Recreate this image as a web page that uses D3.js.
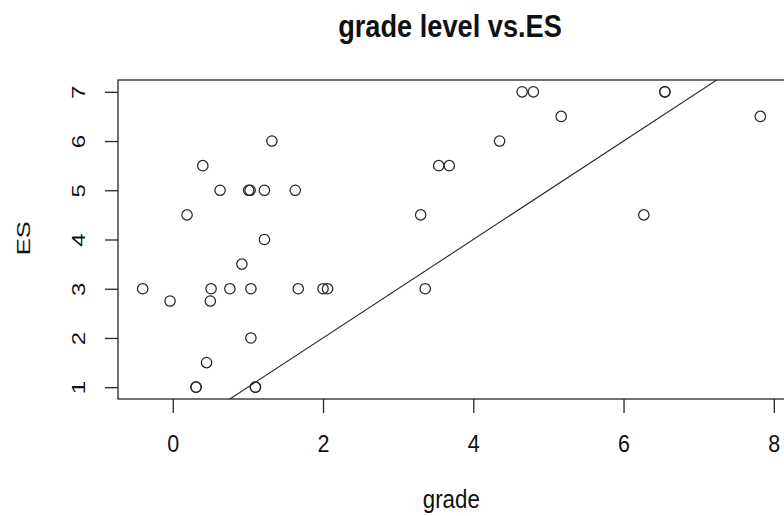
<!DOCTYPE html>
<html>
<head>
<meta charset="utf-8">
<script src="https://cdn.jsdelivr.net/npm/d3@7"></script>
<style>
  html, body { margin: 0; padding: 0; background: #fff; }
  svg { display: block; font-family: "Liberation Sans", Arial, Helvetica, sans-serif; }
</style>
</head>
<body>
<svg id="chart" width="784" height="516"></svg>
<script>
// ---- data ----
const gradeValues = [-0.40, -0.036, 0.19, 0.31, 0.31, 0.40, 0.45, 0.50, 0.51, 0.63, 0.76, 0.92, 1.01, 1.03, 1.04, 1.04, 1.10, 1.10, 1.22, 1.22, 1.32, 1.63, 1.67, 2.00, 2.06, 3.30, 3.36, 3.54, 3.68, 4.35, 4.65, 4.80, 5.17, 6.27, 6.55, 6.55, 7.82];
const esValues    = [3, 2.75, 4.5, 1, 1, 5.5, 1.5, 2.75, 3, 5, 3, 3.5, 5, 5, 3, 2, 1, 1, 5, 4, 6, 5, 3, 3, 3, 4.5, 3, 5.5, 5.5, 6, 7, 7, 6.5, 4.5, 7, 7, 6.5];
const xTickValues = [0, 2, 4, 6, 8];
const yTickValues = [1, 2, 3, 4, 5, 6, 7];
const lineIntercept = 0;
const lineSlope = 1;
const titleText = "grade level vs.ES";
const xLabel = "grade";
const yLabel = "ES";

(function () {
const pLeft = 118, pRight = 785, pTop = 80, pBottom = 399;
const svg = d3.select("#chart");
const FONT = "Liberation Sans, Arial, Helvetica, sans-serif";

function padded(arr) {
  const [lo, hi] = d3.extent(arr);
  const p = (hi - lo) * 0.04;
  return [lo - p, hi + p];
}
const x = d3.scaleLinear().domain(padded(gradeValues)).range([pLeft, pRight]);
const y = d3.scaleLinear().domain(padded(esValues)).range([pBottom, pTop]);

const ink = "#262626";

svg.append("clipPath").attr("id", "clip")
  .append("rect").attr("x", pLeft).attr("y", pTop).attr("width", pRight - pLeft).attr("height", pBottom - pTop);

const xd = x.domain();
svg.append("line")
  .attr("clip-path", "url(#clip)")
  .attr("x1", x(xd[0])).attr("y1", y(lineIntercept + lineSlope * xd[0]))
  .attr("x2", x(xd[1])).attr("y2", y(lineIntercept + lineSlope * xd[1]))
  .attr("stroke", ink).attr("stroke-width", 1.1);

svg.append("g").selectAll("circle")
  .data(gradeValues.map((g, i) => [g, esValues[i]]))
  .join("circle")
  .attr("cx", d => x(d[0])).attr("cy", d => y(d[1]))
  .attr("r", 5.2)
  .attr("fill", "none").attr("stroke", ink).attr("stroke-width", 1.25);

svg.append("rect")
  .attr("x", pLeft).attr("y", pTop).attr("width", pRight - pLeft + 5).attr("height", pBottom - pTop)
  .attr("fill", "none").attr("stroke", ink).attr("stroke-width", 1.3);

// x axis
const xAxis = d3.axisBottom(x).tickValues(xTickValues).tickSize(14).tickFormat(d3.format("d"));
const gx = svg.append("g").attr("transform", `translate(0,${pBottom})`).call(xAxis);
gx.select(".domain").remove();
gx.selectAll(".tick line").attr("stroke", ink).attr("stroke-width", 1.3);
gx.selectAll(".tick text")
  .attr("font-size", 21.5).attr("fill", "#111").attr("font-family", FONT)
  .attr("y", 0).attr("dy", 0)
  .attr("transform", "translate(0,52.5) scale(1,1.1)");

// y axis
const yAxis = d3.axisLeft(y).tickValues(yTickValues).tickSize(13).tickFormat(d3.format("d"));
const gy = svg.append("g").attr("transform", `translate(${pLeft},0)`).call(yAxis);
gy.select(".domain").remove();
gy.selectAll(".tick line").attr("stroke", ink).attr("stroke-width", 1.3);
gy.selectAll(".tick text")
  .attr("font-size", 24).attr("fill", "#111").attr("font-family", FONT)
  .attr("x", 0).attr("y", 0).attr("dy", 0)
  .attr("text-anchor", "middle")
  .attr("transform", `translate(${85 - pLeft},0) rotate(-90) scale(1,0.74)`);

// titles
svg.append("text")
  .attr("transform", "translate(450,36.5) scale(1,1.17)")
  .attr("text-anchor", "middle").attr("font-weight", "bold").attr("font-size", 27.2).attr("fill", "#111")
  .text(titleText);
svg.append("text")
  .attr("transform", "translate(451.3,508.3) scale(1,1.13)")
  .attr("text-anchor", "middle").attr("font-size", 22.3).attr("fill", "#111")
  .text(xLabel);
svg.append("text")
  .attr("transform", `translate(30,238.3) rotate(-90) scale(1,0.72)`)
  .attr("text-anchor", "middle").attr("font-size", 25.5).attr("fill", "#111")
  .text(yLabel);
})();
</script>
</body>
</html>
